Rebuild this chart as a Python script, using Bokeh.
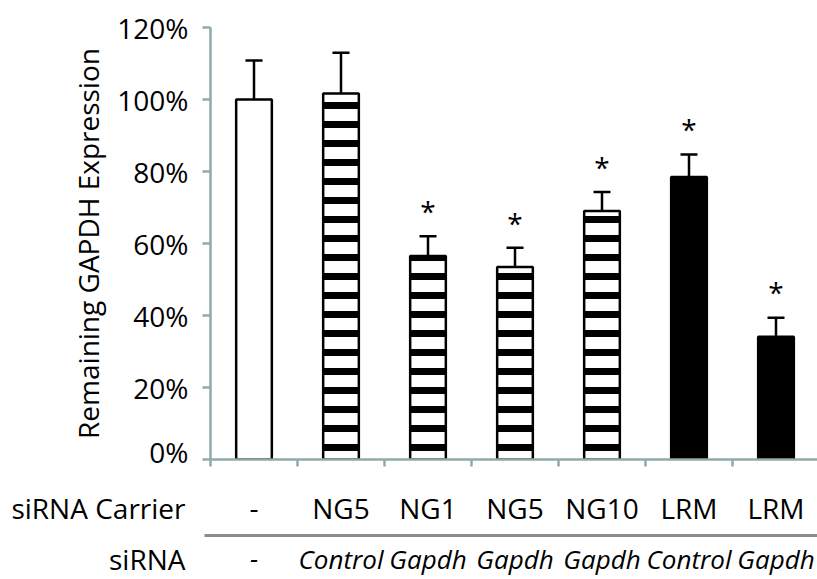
from bokeh.plotting import figure
from bokeh.layouts import column
from bokeh.models import (Range1d, FixedTicker, PrintfTickFormatter,
                          Whisker, TeeHead, ColumnDataSource)
from bokeh.core.properties import value
from bokeh.embed import file_html
from bokeh.resources import INLINE

# ---- data ----
carriers = ["-", "NG5", "NG1", "NG5", "NG10", "LRM", "LRM"]
sirnas = ["-", "Control", "Gapdh", "Gapdh", "Gapdh", "Control", "Gapdh"]
row_titles = ["siRNA Carrier", "siRNA"]
expression = [100.0, 101.7, 56.5, 53.5, 69.0, 78.5, 34.1]
error = [10.8, 11.3, 5.5, 5.3, 5.3, 6.2, 5.3]
significant = [False, False, True, True, True, True, True]
styles = ["open", "striped", "striped", "striped", "striped", "solid", "solid"]
y_ticks = [0, 20, 40, 60, 80, 100, 120]

FONT = "Open Sans"
AXIS_COLOR = "#8FAAA9"
W = 817
FRAME_LEFT = 210
UNIT_PX = 87.0
TOP_H = 470
BOT_H = 109

positions = list(range(1, len(carriers) + 1))
boundaries = [i + 0.5 for i in range(len(carriers) + 1)]
x_start = 0.5
x_end = x_start + (W - FRAME_LEFT) / UNIT_PX
fill_map = {"open": "white", "striped": "white", "solid": "black"}
hatch_map = {"open": " ", "striped": "-", "solid": " "}

src = ColumnDataSource(dict(
    x=positions,
    top=expression,
    upper=[v + e for v, e in zip(expression, error)],
    fill=[fill_map[s] for s in styles],
    hatch=[hatch_map[s] for s in styles],
))

star_src = ColumnDataSource(dict(
    x=[x for x, s in zip(positions, significant) if s],
    y=[v + e + 7.0 for v, e, s in zip(expression, error, significant) if s],
    t=["*" for s in significant if s],
))

# ---------------- main chart ----------------
p = figure(width=W, height=TOP_H,
           x_range=Range1d(x_start, x_end), y_range=Range1d(0, 120),
           output_backend="svg", toolbar_location=None,
           min_border_left=FRAME_LEFT, min_border_top=27, min_border_right=0,
           min_border_bottom=TOP_H - 459)
p.frame_align = False
p.outline_line_color = None
p.xgrid.visible = False
p.ygrid.visible = False

p.vbar(x="x", top="top", bottom=0, width=0.41, source=src,
       fill_color="fill", line_color="black", line_width=2.5,
       hatch_pattern="hatch", hatch_color="black", hatch_scale=19, hatch_weight=7)

p.add_layout(Whisker(source=src, base="x", lower="top", upper="upper", dimension="height",
                     line_color="black", line_width=2.5,
                     lower_head=None,
                     upper_head=TeeHead(size=17, line_color="black", line_width=2.5)))

p.text(x="x", y="y", text="t", source=star_src, text_align="center",
       text_baseline="alphabetic", text_font=value(FONT), text_font_size="28px",
       text_color="black")

ya = p.yaxis[0]
ya.ticker = FixedTicker(ticks=y_ticks)
ya.formatter = PrintfTickFormatter(format="%d%%")
ya.axis_line_color = AXIS_COLOR
ya.axis_line_width = 2.5
ya.major_tick_line_color = AXIS_COLOR
ya.major_tick_line_width = 2.5
ya.major_tick_out = 8
ya.major_tick_in = 0
ya.minor_tick_line_color = None
ya.major_label_text_font = FONT
ya.major_label_text_font_size = "28px"
ya.major_label_text_color = "black"
ya.major_label_standoff = 14
ya.axis_label = "Remaining GAPDH Expression"
ya.axis_label_text_font = FONT
ya.axis_label_text_font_size = "28px"
ya.axis_label_text_font_style = "normal"
ya.axis_label_text_color = "black"
ya.axis_label_standoff = 7

xa = p.xaxis[0]
xa.ticker = FixedTicker(ticks=[], minor_ticks=boundaries)
xa.axis_line_color = AXIS_COLOR
xa.axis_line_width = 2.5
xa.major_tick_line_color = None
xa.major_tick_out = 0
xa.major_tick_in = 0
xa.minor_tick_line_color = AXIS_COLOR
xa.minor_tick_line_width = 2.5
xa.minor_tick_out = 7
xa.minor_tick_in = 0
xa.major_label_standoff = 0

# ---------------- label table below ----------------
q = figure(width=W, height=BOT_H,
           x_range=Range1d(x_start - FRAME_LEFT / UNIT_PX, x_end), y_range=Range1d(0, BOT_H),
           output_backend="svg", toolbar_location=None,
           x_axis_location=None, y_axis_location=None,
           min_border_left=0, min_border_right=0, min_border_top=0, min_border_bottom=0)
q.frame_align = False
q.outline_line_color = None
q.xgrid.visible = False
q.ygrid.visible = False

row1_y = 72
row2_y = 21
sep_y = 44
title_x = x_start - 25 / UNIT_PX

q.text(x=positions, y=[row1_y] * len(positions), text=carriers,
       text_align="center", text_baseline="alphabetic", text_font=value(FONT),
       text_font_size="28px", text_color="black")
q.text(x=positions, y=[row2_y] * len(positions), text=sirnas,
       text_align="center", text_baseline="alphabetic", text_font=value(FONT),
       text_font_size="26px", text_font_style="italic", text_color="black")
q.text(x=[title_x, title_x], y=[row1_y, row2_y], text=row_titles,
       text_align="right", text_baseline="alphabetic", text_font=value(FONT),
       text_font_size="28px", text_color="black")
q.segment(x0=[boundaries[0] - 6 / UNIT_PX], x1=[x_end], y0=[sep_y], y1=[sep_y],
          line_color="#8C8C8C", line_width=3)

layout = column(p, q, spacing=0)
open("out.html", "w").write(file_html(layout, INLINE))
